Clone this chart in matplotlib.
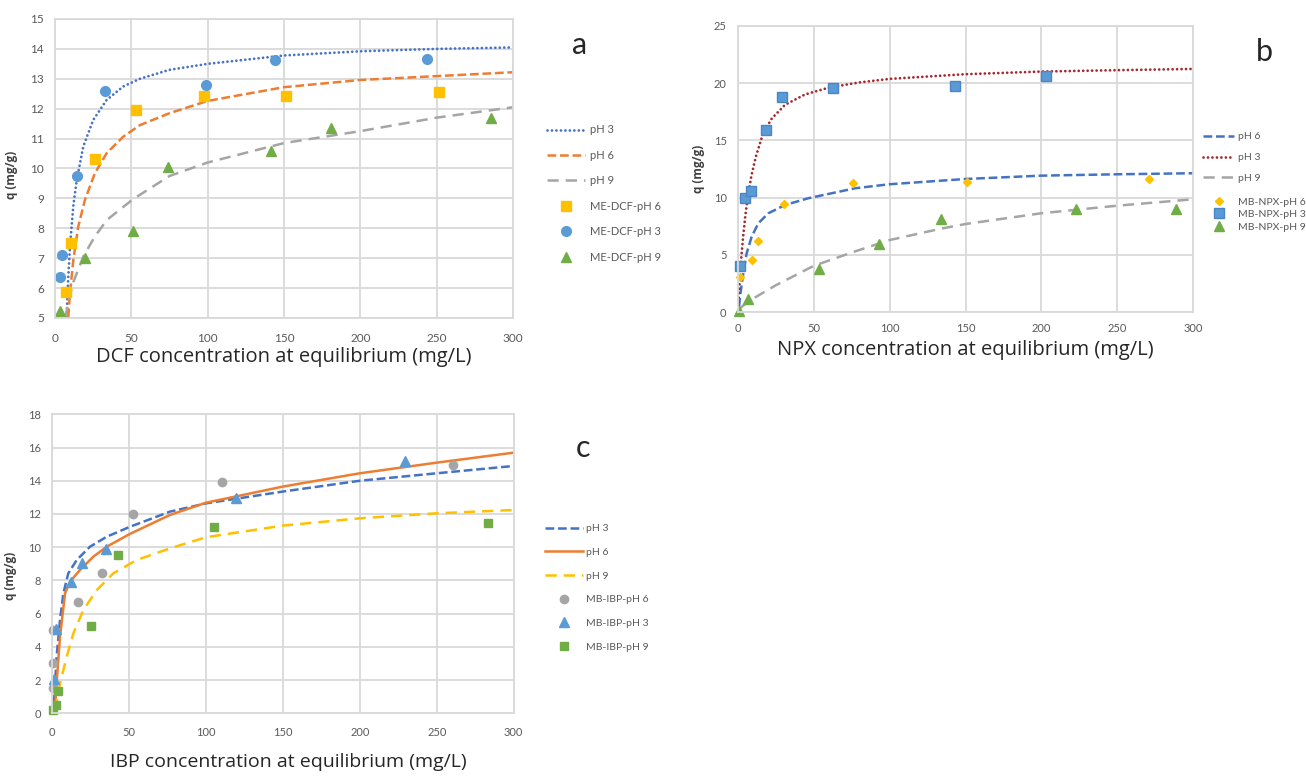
import numpy as np
import matplotlib
matplotlib.use("Agg")
import matplotlib.pyplot as plt

plt.rcParams['font.family'] = ['Lato', 'DejaVu Sans']

W, H = 1306, 776
GRID = '#d9d9d9'
TXT = '#595959'

# ---- a: DCF ----
dcf_ph3_c = [3.3, 4.8, 14.2, 32.9, 98.7, 143.8, 243.6]
dcf_ph3_q = [6.37, 7.1, 9.76, 12.6, 12.78, 13.63, 13.66]
dcf_ph6_c = [7.2, 10.5, 26.4, 53.2, 97.4, 151.0, 251.6]
dcf_ph6_q = [5.88, 7.52, 10.31, 11.96, 12.44, 12.44, 12.57]
dcf_ph9_c = [3.3, 19.8, 51.0, 74.0, 141.2, 180.8, 285.4]
dcf_ph9_q = [5.23, 7.0, 7.92, 10.06, 10.58, 11.34, 11.7]

fit_a3_c = [7.6, 8.7, 9.8, 12, 14.2, 18.5, 25, 33.8, 44.6, 55.6, 75, 100, 150, 200, 250, 300]
fit_a3_q = [5.03, 6.38, 7.38, 8.75, 9.6, 10.73, 11.62, 12.29, 12.74, 13.0, 13.3, 13.5, 13.78, 13.92, 14.0, 14.05]
fit_a6_c = [8.7, 9.8, 12, 15.2, 19.6, 26.1, 33.8, 44.6, 55.6, 75, 100, 150, 200, 250, 300]
fit_a6_q = [5.03, 5.83, 6.94, 8.05, 8.95, 9.84, 10.51, 11.06, 11.45, 11.85, 12.26, 12.72, 12.96, 13.09, 13.22]
fit_a9_c = [6.8, 9, 12, 18.5, 26, 34, 51, 75, 100, 150, 200, 250, 300]
fit_a9_q = [5.0, 5.6, 6.2, 7.05, 7.72, 8.28, 8.97, 9.75, 10.2, 10.85, 11.25, 11.7, 12.05]

# ---- b: NPX ----
npx_ph6_c = [1.5, 9.6, 13.4, 30.7, 76.0, 150.9, 270.8]
npx_ph6_q = [3.08, 4.54, 6.22, 9.45, 11.28, 11.34, 11.63]
npx_ph3_c = [1.5, 4.6, 9.0, 18.6, 29.0, 62.6, 143.2, 203.1]
npx_ph3_q = [4.07, 9.97, 10.58, 15.9, 18.76, 19.6, 19.75, 20.6]
npx_ph9_c = [0.6, 7.0, 53.8, 93.3, 133.9, 222.7, 288.5]
npx_ph9_q = [0.14, 1.16, 3.81, 5.93, 8.14, 8.99, 9.04]

fit_b6_c = [0.9, 1.5, 3.7, 5.9, 9.2, 13.6, 20.2, 31.2, 46.5, 77.3, 100, 150, 200, 250, 300]
fit_b6_q = [0.5, 1.36, 3.4, 5.15, 6.6, 7.77, 8.64, 9.36, 9.95, 10.82, 11.17, 11.63, 11.92, 12.04, 12.13]
fit_b3_c = [0.3, 1, 2, 3.5, 5, 6.6, 9, 12, 16.7, 22.4, 31.2, 44.3, 60, 80, 100, 150, 200, 250, 300]
fit_b3_q = [0.5, 2.0, 4.2, 6.5, 8.4, 10.0, 11.9, 13.6, 15.6, 16.9, 18.1, 19.0, 19.6, 20.05, 20.36, 20.77, 21.0, 21.12, 21.23]
fit_b9_c = [1.5, 7, 25, 50, 77, 100, 134, 150, 200, 250, 300]
fit_b9_q = [0.35, 0.95, 2.35, 4.05, 5.3, 6.3, 7.3, 7.7, 8.64, 9.3, 9.86]

# ---- c: IBP ----
ibp_ph6_c = [0.2, 0.2, 0.2, 16.5, 32.1, 52.7, 110.3, 260.5]
ibp_ph6_q = [5.02, 3.03, 1.5, 6.72, 8.47, 12.02, 13.95, 14.94]
ibp_ph3_c = [0.9, 2.2, 12.0, 19.5, 34.7, 119.6, 229.5]
ibp_ph3_q = [2.08, 5.08, 7.91, 9.07, 9.92, 12.99, 15.2]
ibp_ph9_c = [0.2, 2.2, 3.9, 25.0, 42.9, 105.3, 283.5]
ibp_ph9_q = [0.2, 0.5, 1.36, 5.26, 9.5, 11.24, 11.44]

fit_c3_c = [1.1, 2.8, 5, 7.2, 10.4, 15.9, 24.5, 35.4, 50.5, 76.5, 100, 150, 200, 250, 300]
fit_c3_q = [0.6, 3.41, 5.62, 7.22, 8.43, 9.23, 10.03, 10.63, 11.23, 12.14, 12.64, 13.35, 14.0, 14.45, 14.89]
fit_c6_c = [1.8, 2.8, 5, 8.3, 11.5, 18, 26.7, 35.4, 50.5, 76.5, 100, 150, 200, 250, 300]
fit_c6_q = [0.2, 1.8, 4.61, 7.22, 7.92, 8.63, 9.43, 10.03, 10.8, 11.94, 12.68, 13.65, 14.45, 15.09, 15.69]
fit_c9_c = [1.8, 5, 9.4, 13.7, 20.2, 28.9, 39.7, 54.9, 76.5, 100, 150, 200, 250, 300]
fit_c9_q = [0.2, 1.8, 3.41, 4.82, 6.22, 7.42, 8.43, 9.23, 9.93, 10.6, 11.3, 11.74, 12.04, 12.24]


def box(l, t, r, b):
    return [l / W, 1 - b / H, (r - l) / W, (b - t) / H]


def style(ax, tick_fs, xpad):
    ax.set_xlim(0, 300)
    ax.set_xticks(np.arange(0, 301, 50))
    ax.grid(True, color=GRID, lw=1.3)
    ax.set_axisbelow(True)
    for s in ax.spines.values():
        s.set_color(GRID)
        s.set_linewidth(1.3)
    ax.tick_params(length=0, labelsize=tick_fs, colors=TXT, pad=8)
    ax.tick_params(axis='x', pad=xpad)


def labels(ax, xlab, ylx, yly, xly, xlx=0.5, xfs=14.5):
    ax.set_ylabel('q (mg/g)', fontsize=8.5, fontweight='bold', color='#404040',
                  family=['Open Sans', 'DejaVu Sans'])
    ax.yaxis.set_label_coords(ylx, yly)
    ax.set_xlabel(xlab, fontsize=xfs, color='#262626', family=['Open Sans', 'DejaVu Sans'])
    ax.xaxis.set_label_coords(xlx, xly)
    ax.xaxis.label.set_va('center')


fig = plt.figure(figsize=(W / 100, H / 100), dpi=100)

DOT = dict(ls=(0, (0.01, 1.6)), dash_capstyle='round', lw=2.0)
DASH = dict(ls=(0, (3.5, 1.5)), lw=1.8)
LONG = dict(ls=(0, (4.5, 2.8)), lw=1.8)

# panel a
ax = fig.add_axes(box(55, 19, 513, 318))
ax.set_ylim(5, 15)
ax.set_yticks(np.arange(5, 16, 1))
l3, = ax.plot(fit_a3_c, fit_a3_q, color='#4472C4', label='pH 3', **DOT)
l6, = ax.plot(fit_a6_c, fit_a6_q, color='#ED7D31', label='pH 6', **DASH)
l9, = ax.plot(fit_a9_c, fit_a9_q, color='#A5A5A5', label='pH 9', **LONG)
m6, = ax.plot(dcf_ph6_c, dcf_ph6_q, ls='none', marker='s', ms=7, color='#FFC000', clip_on=False, label='ME-DCF-pH 6')
m3, = ax.plot(dcf_ph3_c, dcf_ph3_q, ls='none', marker='o', ms=7, color='#5B9BD5', clip_on=False, label='ME-DCF-pH 3')
m9, = ax.plot(dcf_ph9_c, dcf_ph9_q, ls='none', marker='^', ms=7, color='#70AD47', clip_on=False, label='ME-DCF-pH 9')
style(ax, 8.5, 11)
labels(ax, 'DCF concentration at equilibrium (mg/L)', -0.081, 0.48, -(357 - 318) / 299)
ax.legend(handles=[l3, l6, l9, m6, m3, m9], loc='center left',
          bbox_to_anchor=(547 / W, 1 - 193.5 / H), bbox_transform=fig.transFigure,
          frameon=False, fontsize=8, labelcolor=TXT, handlelength=3.4, handletextpad=0.45,
          labelspacing=1.3, borderpad=0, borderaxespad=0, numpoints=1)
fig.text(580 / W, 1 - 45 / H, 'a', fontsize=22, ha='center', va='center', color='#262626')

# panel b
ax = fig.add_axes(box(737.7, 25.7, 1193.3, 312.3))
ax.set_ylim(0, 25)
ax.set_yticks(np.arange(0, 26, 5))
b6, = ax.plot(fit_b6_c, fit_b6_q, color='#4472C4', label='pH 6', **DASH)
b3, = ax.plot(fit_b3_c, fit_b3_q, color='#A5282E', label='pH 3', **DOT)
b9, = ax.plot(fit_b9_c, fit_b9_q, color='#A5A5A5', label='pH 9', **LONG)
n6, = ax.plot(npx_ph6_c, npx_ph6_q, ls='none', marker='D', ms=4.5, color='#FFC000', clip_on=False, label='MB-NPX-pH 6')
n3, = ax.plot(npx_ph3_c, npx_ph3_q, ls='none', marker='s', ms=6.5, color='#5B9BD5', mec='#4A86C5', clip_on=False, label='MB-NPX-pH 3')
n9, = ax.plot(npx_ph9_c, npx_ph9_q, ls='none', marker='^', ms=6.5, color='#70AD47', clip_on=False, label='MB-NPX-pH 9')
style(ax, 8, 8)
labels(ax, 'NPX concentration at equilibrium (mg/L)', -0.072, 0.5, -(350 - 312.3) / 286.6)
leg1 = ax.legend(handles=[b6, b3, b9], loc='center left',
                 bbox_to_anchor=(1203 / W, 1 - 157.5 / H), bbox_transform=fig.transFigure,
                 frameon=False, fontsize=7.5, labelcolor=TXT, handlelength=3.0, handletextpad=0.4,
                 labelspacing=1.1, borderpad=0, borderaxespad=0)
ax.add_artist(leg1)
ax.legend(handles=[n6, n3, n9], loc='center left',
          bbox_to_anchor=(1203 / W, 1 - 214.5 / H), bbox_transform=fig.transFigure,
          frameon=False, fontsize=7.5, labelcolor=TXT, handlelength=3.0, handletextpad=0.4,
          labelspacing=0.3, borderpad=0, borderaxespad=0, numpoints=1)
fig.text(1264 / W, 1 - 52 / H, 'b', fontsize=22, ha='center', va='center', color='#262626')

# panel c
ax = fig.add_axes(box(52.3, 414.3, 513.7, 713.3))
ax.set_ylim(0, 18)
ax.set_yticks(np.arange(0, 19, 2))
c3, = ax.plot(fit_c3_c, fit_c3_q, color='#4472C4', label='pH 3', **DASH)
c6, = ax.plot(fit_c6_c, fit_c6_q, color='#ED7D31', lw=1.8, ls='-', label='pH 6')
c9, = ax.plot(fit_c9_c, fit_c9_q, color='#FFC000', label='pH 9', **LONG)
i6, = ax.plot(ibp_ph6_c, ibp_ph6_q, ls='none', marker='o', ms=6, color='#A5A5A5', clip_on=False, label='MB-IBP-pH 6')
i3, = ax.plot(ibp_ph3_c, ibp_ph3_q, ls='none', marker='^', ms=6.5, color='#5B9BD5', clip_on=False, label='MB-IBP-pH 3')
i9, = ax.plot(ibp_ph9_c, ibp_ph9_q, ls='none', marker='s', ms=6, color='#70AD47', clip_on=False, label='MB-IBP-pH 9')
style(ax, 8, 10)
labels(ax, 'IBP concentration at equilibrium (mg/L)', -0.0765, 0.46, -(762 - 713.3) / 299,
       xlx=(288 - 52.3) / 461.4, xfs=14)
ax.legend(handles=[c3, c6, c9, i6, i3, i9], loc='center left',
          bbox_to_anchor=(545 / W, 1 - 588 / H), bbox_transform=fig.transFigure,
          frameon=False, fontsize=7.5, labelcolor=TXT, handlelength=3.6, handletextpad=0.3,
          labelspacing=1.38, borderpad=0, borderaxespad=0, numpoints=1)
fig.text(583 / W, 1 - 448 / H, 'c', fontsize=22, ha='center', va='center', color='#262626')

fig.savefig('out.png', dpi=100, facecolor='white')
